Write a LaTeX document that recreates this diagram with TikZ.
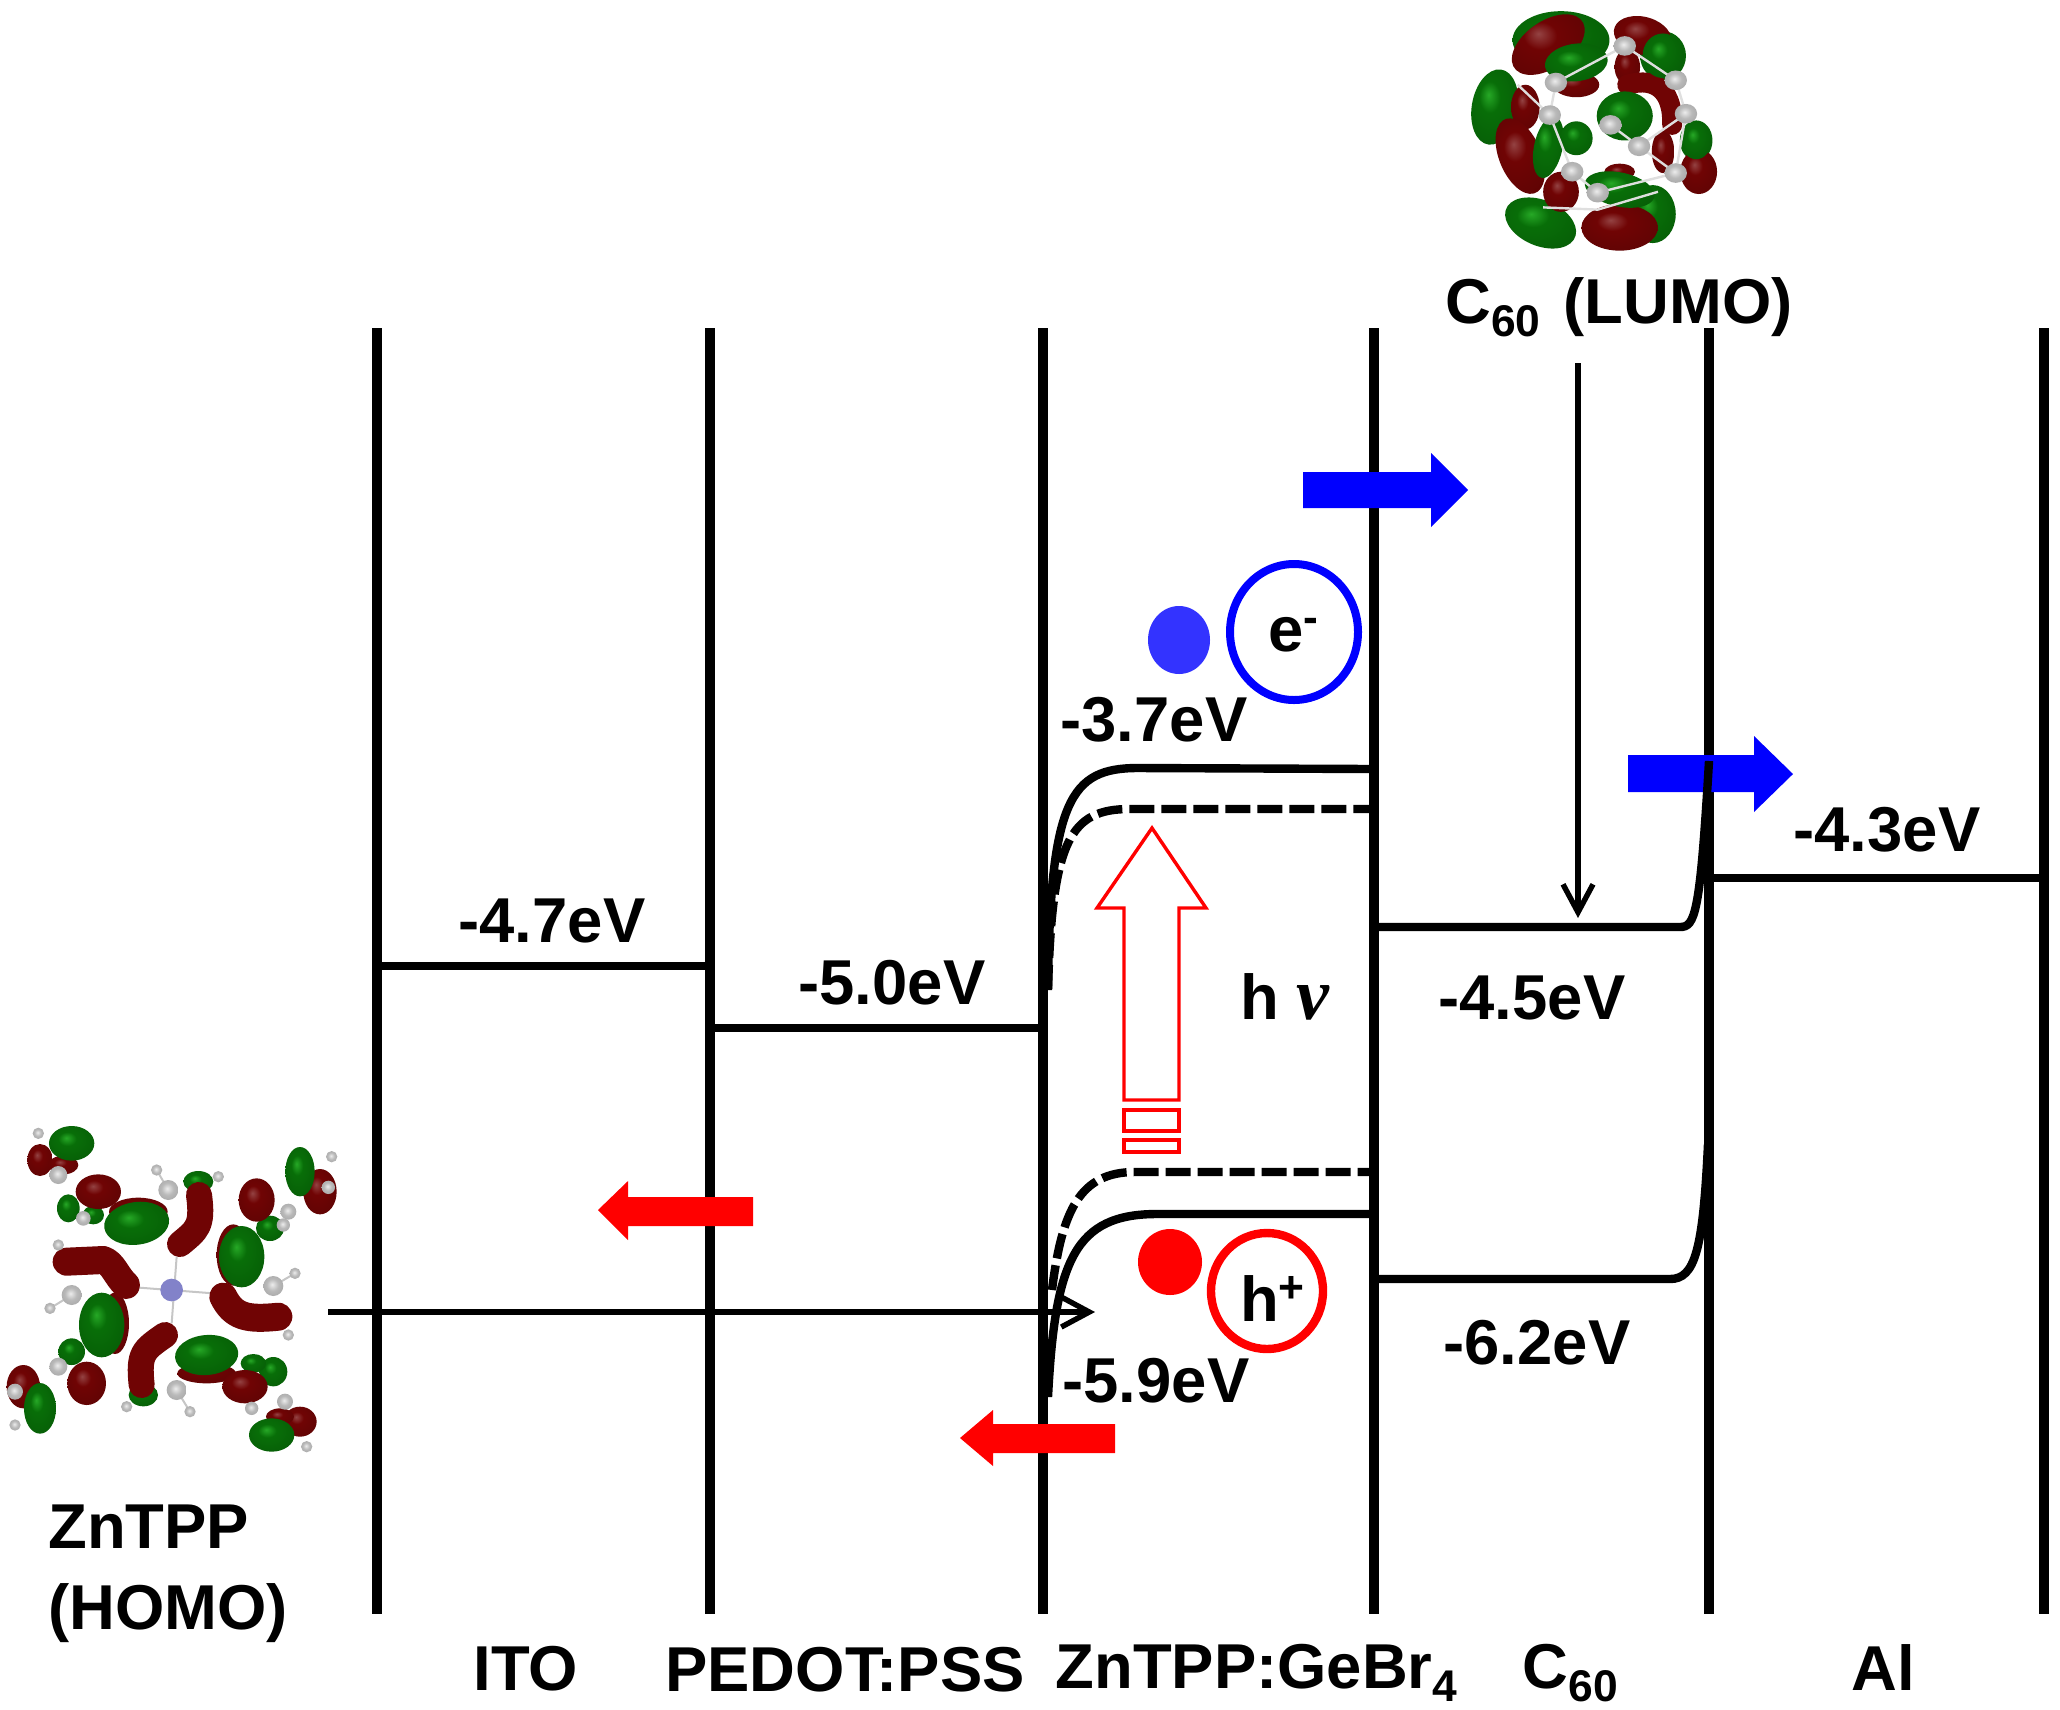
\documentclass[tikz,border=0pt]{standalone}
\usepackage{fontspec}
\setmainfont{Liberation Sans}
\newfontfamily\nufont{Liberation Serif}
\usetikzlibrary{arrows.meta,shapes.geometric}
\definecolor{lobegreen}{RGB}{8,110,8}
\definecolor{lobered}{RGB}{112,4,4}
\pgfdeclareradialshading{greenlobe}{\pgfpoint{-6bp}{8bp}}{color(0bp)=(green!60!black!85!white);color(10bp)=(lobegreen);color(25bp)=(lobegreen!90!black);color(50bp)=(lobegreen!70!black)}
\pgfdeclareradialshading{redlobe}{\pgfpoint{-6bp}{8bp}}{color(0bp)=(lobered!75!white);color(10bp)=(lobered);color(25bp)=(lobered!90!black);color(50bp)=(lobered!75!black)}
\pgfdeclareradialshading{atomball}{\pgfpoint{-3bp}{4bp}}{color(0bp)=(gray!15);color(15bp)=(gray!55);color(50bp)=(gray!85)}

\begin{document}
\begin{tikzpicture}[
    x=0.5pt, y=-0.5pt,
    rail/.style={line width=4.6pt},
    band/.style={line width=4.2pt},
    bandd/.style={line width=4.2pt, dash pattern=on 12.5pt off 3.5pt},
    thin arr/.style={line width=2.7pt, -{Straight Barb[length=14pt,width=15pt,line width=2.7pt]}},
    lbl/.style={anchor=base, inner sep=0pt, font=\fontsize{31.7}{32}\selectfont\bfseries},
    bluearr/.style={fill={rgb,255:red,0;green,0;blue,255}},
    redarr/.style={fill=red},
    hollow/.style={draw=red, line width=1.7pt, fill=white},
    glb/.style={shading=greenlobe},
    rlb/.style={shading=redlobe},
    atom/.style={shading=atomball}
]
\useasboundingbox (0,0) rectangle (2060,1709);

% molecule C60
\begin{scope}[shift={(1000,0)}, xscale=.51, yscale=.446]
\foreach \px/\py/\ra/\rb/\ang in {1100/90/95/65/0, 970/240/45/85/-8, 1300/125/45/55/0, 1060/500/75/50/-30, 1280/480/45/65/0, 1365/315/32/45/0}
  \shade[glb] (\px,\py) ellipse [x radius=\ra, y radius=\rb, rotate=\ang];
\foreach \px/\py/\ra/\rb/\ang in {1075/100/85/50/42, 1260/80/58/42/-20, 1130/190/45/28/0, 1030/240/28/50/0, 1020/350/42/88/18, 1100/430/35/45/0, 1215/510/75/52/0, 1370/385/36/50/0, 1300/340/22/48/0, 1230/150/25/40/0, 1215/385/30/18/0}
  \shade[rlb] (\px,\py) ellipse [x radius=\ra, y radius=\rb, rotate=\ang];
\draw[lobered, line width=10pt, line cap=round] (1230,190) .. controls (1290,170) and (1320,210) .. (1318,280);
\foreach \px/\py/\ra/\rb/\ang in {1130/140/62/42/10, 1225/260/55/55/0, 1075/330/28/70/-10, 1130/310/32/38/0, 1365/315/30/42/0, 1215/425/70/38/-15, 1300/125/40/50/0}
  \shade[glb] (\px,\py) ellipse [x radius=\ra, y radius=\rb, rotate=\ang];
\draw[gray!25, line width=1.2pt] (1225,103) -- (1325,180) -- (1345,255) -- (1253,328) -- (1197,280)
  (1090,185) -- (1078,258) -- (1122,385) -- (1172,432) -- (1325,388) -- (1253,328)
  (1090,185) -- (1225,103) (1345,255) -- (1325,388) (1015,190) -- (1078,258) (1065,465) -- (1172,470) -- (1290,430);
\foreach \px/\py in {1225/103, 1090/185, 1078/258, 1197/280, 1253/328, 1345/255, 1325/180, 1122/385, 1172/432, 1325/388}
  \shade[atom] (\px,\py) circle (22);
\end{scope}

% molecule ZnTPP
\begin{scope}[shift={(0,1100)}, scale=1/3]
\draw[gray!45, line width=1pt] (380,560) -- (640,580) (530,470) -- (515,670) (505,270) -- (470,210) (820,558) -- (885,520) (215,585) -- (150,625) (530,870) -- (570,935);
\foreach \px/\py/\ra/\rb/\ang in {120/180/38/48/0, 190/195/45/28/0, 960/275/50/68/0, 70/860/50/65/0, 900/965/50/45/0, 415/335/88/42/0, 700/465/50/92/0, 345/670/42/92/0, 620/820/88/30/0, 840/950/42/25/0}
  \shade[rlb] (\px,\py) ellipse [x radius=\ra, y radius=\rb, rotate=\ang];
\foreach \px/\py/\ra/\rb/\ang in {215/130/68/52/0, 900/215/44/74/0, 410/370/98/64/8, 725/470/68/92/0, 305/675/68/97/0, 620/765/95/60/5, 120/925/48/76/0, 815/1005/68/50/0, 205/325/34/42/0, 595/245/45/32/0, 810/385/42/38/0, 215/755/40/40/0, 820/815/42/44/0, 760/790/38/28/0, 430/885/44/34/0, 280/345/32/28/0}
  \shade[glb] (\px,\py) ellipse [x radius=\ra, y radius=\rb, rotate=\ang];
\foreach \px/\py/\ra/\rb/\ang in {295/275/68/52/0, 770/300/54/65/0, 260/850/58/65/0, 735/860/68/50/0}
  \shade[rlb] (\px,\py) ellipse [x radius=\ra, y radius=\rb, rotate=\ang];
\draw[lobered, line width=14pt, line cap=round, line join=round]
  (200,485) -- (310,480) .. controls (340,490) and (350,530) .. (378,555)
  (670,590) .. controls (700,650) and (740,660) .. (835,650);
\draw[lobered, line width=13pt, line cap=round]
  (597,285) .. controls (610,380) and (590,390) .. (540,432)
  (425,855) .. controls (415,760) and (430,750) .. (495,705);
\foreach \px/\py/\ra in {505/270/30, 215/585/30, 820/558/30, 530/870/30, 175/225/27, 865/335/24, 250/355/22, 175/800/27, 855/905/24, 850/375/20, 45/875/24, 985/262/20, 755/925/20}
  \shade[atom] (\px,\py) circle (\ra);
\foreach \px/\py in {470/210, 655/230, 115/100, 995/170, 175/435, 150/625, 885/520, 865/705, 380/920, 570/935, 45/975, 920/1040}
  \shade[atom] (\px,\py) circle (17);
\fill[blue!40!gray!70] (515,570) circle (34);
\end{scope}

% electrode rails
\foreach \nm/\px in {ito/377, ped/710, act/1043, cs/1374, alu/1709, end/2044} {
  \coordinate (\nm-t) at (\px,328);
  \coordinate (\nm-b) at (\px,1614);
  \draw[rail] (\nm-t) -- (\nm-b);
}

% block arrows under the levels
\fill[bluearr] (1303,472) -- (1431,472) -- (1431,453) -- (1468,490) -- (1431,527) -- (1431,508) -- (1303,508) -- cycle;
\fill[bluearr] (1628,755) -- (1754,755) -- (1754,736) -- (1793,774) -- (1754,812) -- (1754,792) -- (1628,792) -- cycle;
\fill[redarr] (753,1197) -- (628,1197) -- (628,1181) -- (598,1210) -- (628,1240) -- (628,1226) -- (753,1226) -- cycle;
\fill[redarr] (1115,1424) -- (993,1424) -- (993,1410) -- (960,1438) -- (993,1466) -- (993,1453) -- (1115,1453) -- cycle;

% levels
\draw[band] (1048,989) .. controls (1050,800) and (1070,768) .. (1138,768) -- (1373,769);
\draw[bandd] (1048,990) .. controls (1052,840) and (1070,809) .. (1130,809) -- (1380,809);
\draw[bandd] (1052,1290) .. controls (1062,1210) and (1080,1172) .. (1135,1172) -- (1373,1172);
\draw[band] (1048,1397) .. controls (1055,1260) and (1075,1214) .. (1157,1214) -- (1373,1214);
\draw[band] (1373,927) -- (1680,927) .. controls (1695,927) and (1700,915) .. (1709,761);
\draw[band] (1373,1279) -- (1670,1279) .. controls (1695,1279) and (1703,1250) .. (1708,1144);
\draw[band] (ito-t |- 0,966) -- (ped-t |- 0,966);
\draw[band] (ped-t |- 0,1028) -- (act-t |- 0,1028);
\draw[band] (alu-t |- 0,878) -- (end-t |- 0,878);

% light arrow
\draw[hollow] (1152,828) -- (1206,908) -- (1179,908) -- (1179,1100) -- (1124,1100) -- (1124,908) -- (1097,908) -- cycle;
\draw[hollow] (1124,1110) rectangle (1179,1131);
\draw[hollow] (1124,1140) rectangle (1179,1152);

% carriers
\node[ellipse, fill={rgb,255:red,51;green,51;blue,255}, minimum width=31pt, minimum height=34pt, inner sep=0pt] (edot) at (1179,640) {};
\node[ellipse, draw={rgb,255:red,0;green,0;blue,255}, line width=4pt, minimum width=64pt, minimum height=68pt, inner sep=0pt] (ering) at (1294,632) {};
\node[lbl] (elab) at (1294,651) {e\textsuperscript{-}};
\node[ellipse, fill=red, minimum width=32pt, minimum height=33pt, inner sep=0pt] (hdot) at (1170,1262) {};
\node[ellipse, draw=red, line width=4.2pt, minimum width=56pt, minimum height=58pt, inner sep=0pt] (hring) at (1267,1291) {};
\node[lbl] (hlab) at (1273,1321) {h\textsuperscript{+}};

% labels
\node[lbl] (lito) at (552,942) {-4.7eV};
\node[lbl] (lped) at (892,1004) {-5.0eV};
\node[lbl] (lumoa) at (1154,741) {-3.7eV};
\node[lbl] (homoa) at (1156,1402) {-5.9eV};
\node[lbl] (lumoc) at (1532,1019) {-4.5eV};
\node[lbl] (homoc) at (1537,1364) {-6.2eV};
\node[lbl] (lalu) at (1887,851) {-4.3eV};
\node[lbl, anchor=base west] (hnu) at (1240,1019) {h {\nufont\fontsize{37}{37}\selectfont\itshape ν}};
\node[lbl] (nito) at (526,1690) {ITO};
\node[lbl] (nped) at (845,1691) {PEDOT:PSS};
\node[lbl] (nact) at (1257,1688) {ZnTPP:GeBr\textsubscript{4}};
\node[lbl] (ncs) at (1571,1688) {C\textsubscript{60}};
\node[lbl] (nalu) at (1883,1690) {Al};
\node[lbl, anchor=base west] (nzn) at (48,1548) {ZnTPP};
\node[lbl, anchor=base west] (nhomo) at (48,1629) {(HOMO)};
\node[lbl] (nlumo) at (1619,323) {C\textsubscript{60}\hspace{11pt}(LUMO)};

% molecule to level
\coordinate (znstart) at (328,1312);
\coordinate (znend) at (1095,1312);
\coordinate (cstart) at (1578,363);
\coordinate (cend) at (1578,918);
\draw[thin arr] (znstart) -- (znend);
\draw[thin arr] (cstart) -- (cend);
\end{tikzpicture}
\end{document}
